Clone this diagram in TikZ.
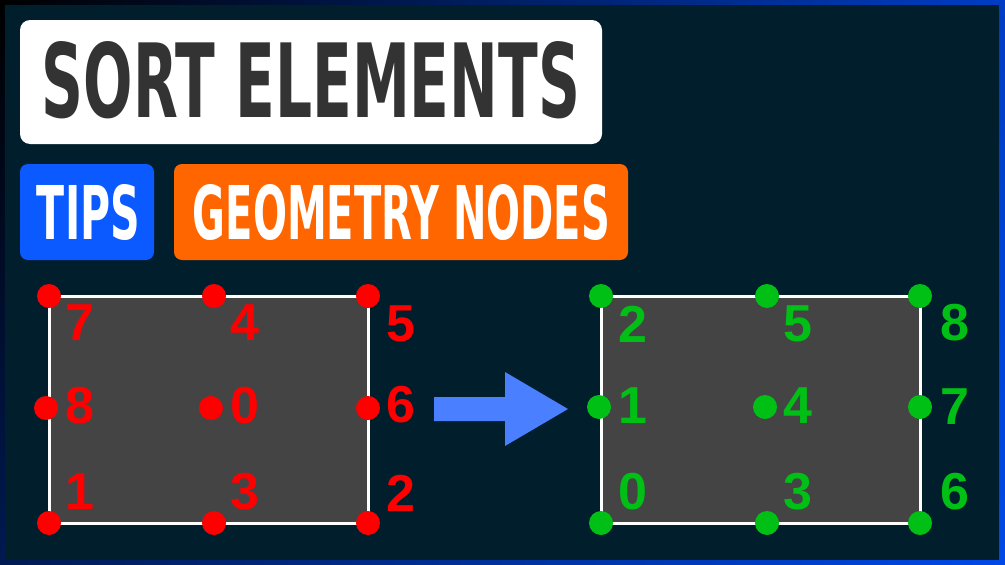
\documentclass[tikz,border=0pt]{standalone}
\usepackage{fontspec}
\setmainfont{Liberation Sans}
\newfontfamily\titlefont{DejaVu Sans}
\usetikzlibrary{calc,shadings}
\definecolor{bgcol}{HTML}{011E2C}
\definecolor{rectgray}{HTML}{444444}
\definecolor{dotred}{HTML}{FF0000}
\definecolor{dotgreen}{HTML}{00C016}
\definecolor{tipsblue}{HTML}{0A5AFF}
\definecolor{gnorange}{HTML}{FF6600}
\definecolor{arrowblue}{HTML}{4A80FF}
\definecolor{titlegray}{HTML}{333333}
\definecolor{bordblue}{HTML}{0048E8}
\begin{document}
\begin{tikzpicture}[x=1pt,y=-1pt,
  reddot/.style={circle, fill=dotred, inner sep=0pt, minimum size=24pt},
  greendot/.style={circle, fill=dotgreen, inner sep=0pt, minimum size=24pt},
  redlab/.style={inner sep=0pt, text=dotred, font=\fontsize{52}{52}\selectfont\bfseries},
  greenlab/.style={inner sep=0pt, text=dotgreen, font=\fontsize{52}{52}\selectfont\bfseries},
  panel/.style={fill=rectgray, draw=white, line width=3pt}
]
\useasboundingbox (0,0) rectangle (1005,565);
\shade[upper left=black, upper right=bordblue!85!black, lower left=bordblue!35!black, lower right=bordblue] (0,0) rectangle (1005,565);
\fill[bgcol] (5,5) rectangle (999,560);

% title boxes
\fill[white, rounded corners=10pt] (20,20) rectangle (602,144);
\node[inner sep=0pt] (title) at (311,80.5) {\resizebox{538pt}{76pt}{\titlefont\bfseries\color{titlegray}SORT ELEMENTS}};
\fill[tipsblue, rounded corners=8pt] (20,164) rectangle (154,260);
\node[inner sep=0pt] (tips) at (88.5,212.5) {\resizebox{103pt}{55pt}{\titlefont\bfseries\color{white}TIPS}};
\fill[gnorange, rounded corners=8pt] (174,164) rectangle (628,260);
\node[inner sep=0pt] (gn) at (401.5,212.5) {\resizebox{417pt}{55pt}{\titlefont\bfseries\color{white}GEOMETRY NODES}};

% left panel
\coordinate (la) at (49,296);
\coordinate (lb) at (368,523);
\draw[panel] (la) rectangle (lb);
\node[reddot] (l1) at (49,296) {};
\node[reddot] (l2) at (214,296) {};
\node[reddot] (l3) at (368,296) {};
\node[reddot] (l4) at (46,408) {};
\node[reddot] (l5) at (211,408) {};
\node[reddot] (l6) at (368,408) {};
\node[reddot] (l7) at (49,523) {};
\node[reddot] (l8) at (214,523) {};
\node[reddot] (l9) at (368,523) {};
\node[redlab] (t1) at (80,323) {7};
\node[redlab] (t2) at (245,323) {4};
\node[redlab] (t3) at (401,324) {5};
\node[redlab] (t4) at (80,406) {8};
\node[redlab] (t5) at (245,406) {0};
\node[redlab] (t6) at (401,405) {6};
\node[redlab] (t7) at (80,492) {1};
\node[redlab] (t8) at (245,492) {3};
\node[redlab] (t9) at (401,493) {2};

% arrow
\fill[arrowblue] (434,397) -- (505,397) -- (505,372) -- (568,409) -- (505,446) -- (505,421) -- (434,421) -- cycle;

% right panel
\coordinate (ra) at (601,296);
\coordinate (rb) at (920,523);
\draw[panel] (ra) rectangle (rb);
\node[greendot] (r1) at (601,296) {};
\node[greendot] (r2) at (767,296) {};
\node[greendot] (r3) at (920,296) {};
\node[greendot] (r4) at (599,407) {};
\node[greendot] (r5) at (765,407) {};
\node[greendot] (r6) at (920,407) {};
\node[greendot] (r7) at (601,523) {};
\node[greendot] (r8) at (767,523) {};
\node[greendot] (r9) at (920,523) {};
\node[greenlab] (g1) at (633,324) {2};
\node[greenlab] (g2) at (798,324) {5};
\node[greenlab] (g3) at (955,323) {8};
\node[greenlab] (g4) at (633,406) {1};
\node[greenlab] (g5) at (798,406) {4};
\node[greenlab] (g6) at (955,407) {7};
\node[greenlab] (g7) at (633,492) {0};
\node[greenlab] (g8) at (798,492) {3};
\node[greenlab] (g9) at (955,492) {6};
\end{tikzpicture}
\end{document}
